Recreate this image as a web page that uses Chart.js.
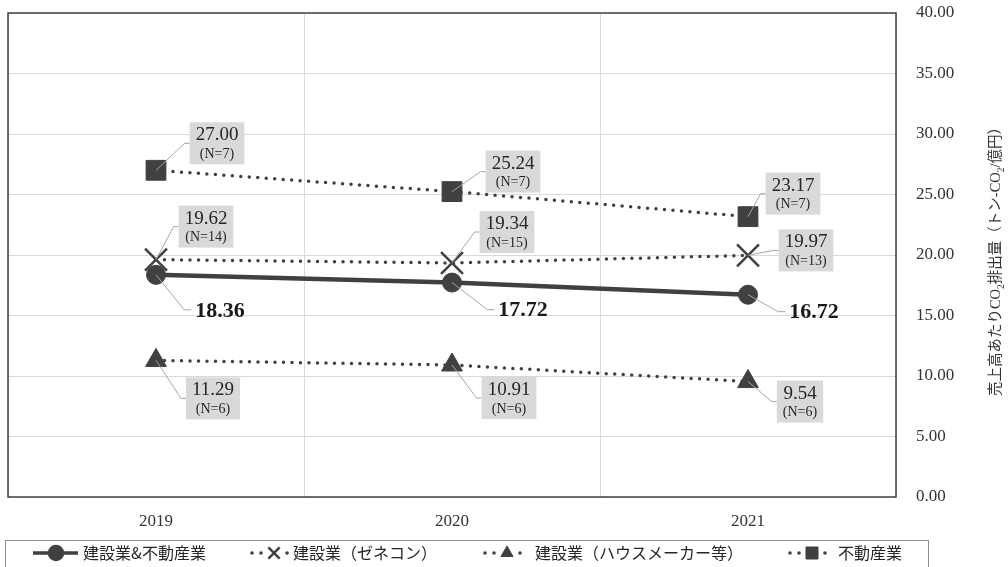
<!DOCTYPE html>
<html>
<head>
<meta charset="utf-8">
<script src="https://cdn.jsdelivr.net/npm/chart.js@4"></script>
<style>
    html, body { margin: 0; padding: 0; background: #fff; }
    #wrap { width: 1008px; height: 567px; }
</style>
</head>
<body>
<div id="wrap"><canvas id="co2Chart"></canvas></div>
<script>

// ------------------------
// Data
// ------------------------

const years = ["2019", "2020", "2021"];

const seriesNames = [
    "建設業&不動産業",
    "建設業（ゼネコン）",
    "建設業（ハウスメーカー等）",
    "不動産業"
];

const totalValues = [18.36, 17.72, 16.72];

const zeneconValues = [19.62, 19.34, 19.97];
const zeneconCounts = [14, 15, 13];

const houseValues = [11.29, 10.91, 9.54];
const houseCounts = [6, 6, 6];

const realEstateValues = [27.00, 25.24, 23.17];
const realEstateCounts = [7, 7, 7];

// [text, isSubscript]
const axisTitleParts = [
    ["売上高あたりCO", false],
    ["2", true],
    ["排出量（トン-CO", false],
    ["2", true],
    ["/億円）", false]
];

// ------------------------
// Layout / style
// ------------------------

const DARK = "#404040";
const SERIF = "'Liberation Serif', 'Noto Sans CJK JP', serif";
const CJK = "'Noto Sans CJK JP', 'Liberation Serif', sans-serif";

// label centre offset from its point, per dataset / per year
const labelOffsets = [
    [[64, 35], [71, 27], [66, 17]],
    [[50, -33], [55, -31], [58, -5]],
    [[57, 38], [57, 33], [52, 20]],
    [[61, -27], [61, -20], [45, -23]]
];

// legend: symbol start x, text start x
const legendLayout = [
    [33, 83],
    [250, 293],
    [483, 535],
    [788, 838]
];

const legendMarkers = [
    { pointStyle: "circle", radius: 6.5, solid: true },
    { pointStyle: "crossRot", radius: 8, borderWidth: 2.5 },
    { pointStyle: "triangle", radius: 7 },
    { pointStyle: "rect", radius: 8.5 }
];

// ------------------------
// Plugins
// ------------------------

const frame = {
    id: "frame",
    beforeDatasetsDraw(chart) {
        const { ctx, chartArea: a } = chart;
        ctx.save();
        ctx.strokeStyle = DARK;
        ctx.lineWidth = 1.5;
        ctx.strokeRect(a.left, a.top, a.right - a.left, a.bottom - a.top);
        ctx.restore();
    }
};

const callouts = {
    id: "callouts",
    afterDatasetsDraw(chart) {
        const ctx = chart.ctx;
        ctx.save();
        chart.data.datasets.forEach((ds, di) => {
            const meta = chart.getDatasetMeta(di);
            meta.data.forEach((pt, i) => {
                const [dx, dy] = labelOffsets[di][i];
                const cx = pt.x + dx;
                const cy = pt.y + dy;
                const value = ds.data[i].toFixed(2);

                ctx.strokeStyle = "#a6a6a6";
                ctx.lineWidth = 1;

                if (!ds.counts) {
                    ctx.font = "bold 22px " + SERIF;
                    const w = ctx.measureText(value).width;
                    const left = cx - w / 2;
                    ctx.beginPath();
                    ctx.moveTo(pt.x, pt.y);
                    ctx.lineTo(left - 11, cy);
                    ctx.lineTo(left - 4, cy);
                    ctx.stroke();
                    ctx.fillStyle = "#1a1a1a";
                    ctx.textAlign = "center";
                    ctx.textBaseline = "middle";
                    ctx.fillText(value, cx, cy + 1);
                    return;
                }

                const nText = "(N=" + ds.counts[i] + ")";
                ctx.font = "19px " + SERIF;
                const w1 = ctx.measureText(value).width;
                ctx.font = "14px " + SERIF;
                const w2 = ctx.measureText(nText).width;
                const bw = Math.max(w1, w2) + 12;
                const bh = 42;
                const left = cx - bw / 2;

                ctx.beginPath();
                ctx.moveTo(pt.x, pt.y);
                ctx.lineTo(left - 5, cy);
                ctx.lineTo(left, cy);
                ctx.stroke();

                ctx.fillStyle = "#d9d9d9";
                ctx.fillRect(left, cy - bh / 2, bw, bh);

                ctx.fillStyle = "#262626";
                ctx.textAlign = "center";
                ctx.textBaseline = "middle";
                ctx.font = "19px " + SERIF;
                ctx.fillText(value, cx, cy - 8);
                ctx.font = "14px " + SERIF;
                ctx.fillText(nText, cx, cy + 11);
            });
        });
        ctx.restore();
    }
};

const sideTitle = {
    id: "sideTitle",
    afterDraw(chart) {
        const { ctx, chartArea: a } = chart;
        const mainFont = "14.5px " + SERIF;
        const subFont = "9.5px " + SERIF;
        ctx.save();
        let total = 0;
        axisTitleParts.forEach(([t, sub]) => {
            ctx.font = sub ? subFont : mainFont;
            total += ctx.measureText(t).width;
        });
        ctx.translate(996, (a.top + a.bottom) / 2 + 3);
        ctx.rotate(-Math.PI / 2);
        ctx.fillStyle = "#333";
        ctx.textBaseline = "middle";
        ctx.textAlign = "left";
        let x = -total / 2;
        axisTitleParts.forEach(([t, sub]) => {
            ctx.font = sub ? subFont : mainFont;
            ctx.fillText(t, x, sub ? 5 : 0);
            x += ctx.measureText(t).width;
        });
        ctx.restore();
    }
};

const boxedLegend = {
    id: "boxedLegend",
    afterDraw(chart) {
        const ctx = chart.ctx;
        const y = 553;
        ctx.save();

        ctx.strokeStyle = "#8c8c8c";
        ctx.lineWidth = 1;
        ctx.strokeRect(5.5, 540.5, 923, 40);

        seriesNames.forEach((name, i) => {
            const [sx, tx] = legendLayout[i];
            const m = legendMarkers[i];
            ctx.fillStyle = DARK;
            ctx.strokeStyle = DARK;

            if (m.solid) {
                ctx.lineWidth = 3.5;
                ctx.beginPath();
                ctx.moveTo(sx, y);
                ctx.lineTo(sx + 45, y);
                ctx.stroke();
                Chart.helpers.drawPoint(ctx, { pointStyle: m.pointStyle, radius: m.radius, rotation: 0, borderWidth: 1 }, sx + 23, y);
            } else {
                [2, 11, 37].forEach(o => {
                    ctx.beginPath();
                    ctx.arc(sx + o, y, 1.8, 0, Math.PI * 2);
                    ctx.fill();
                });
                ctx.lineWidth = m.borderWidth || 1;
                Chart.helpers.drawPoint(ctx, { pointStyle: m.pointStyle, radius: m.radius, rotation: 0, borderWidth: m.borderWidth || 1 }, sx + 24, y);
            }

            ctx.fillStyle = "#262626";
            ctx.font = "16px " + CJK;
            ctx.textAlign = "left";
            ctx.textBaseline = "middle";
            ctx.fillText(name, tx, y);
        });

        ctx.restore();
    }
};

// ------------------------
// Chart
// ------------------------

function dottedSeries(label, data, counts, pointStyle, radius, extra) {
    return Object.assign({
        label: label,
        data: data,
        counts: counts,
        borderColor: DARK,
        backgroundColor: DARK,
        borderWidth: 3.5,
        borderDash: [0, 8.5],
        borderCapStyle: "round",
        pointStyle: pointStyle,
        pointRadius: radius,
        pointBorderWidth: 1,
        pointBackgroundColor: DARK,
        pointBorderColor: DARK,
        tension: 0
    }, extra || {});
}

// drop the label-overhang padding so the plot box sits where we want it
function noPadding(s) {
    s.paddingTop = 0;
    s.paddingBottom = 0;
    s.paddingLeft = 0;
    s.paddingRight = 0;
}

new Chart(document.getElementById("co2Chart"), {

    type: "line",

    data: {

        labels: years,

        datasets: [
            {
                label: seriesNames[0],
                data: totalValues,
                counts: null,
                borderColor: DARK,
                backgroundColor: DARK,
                borderWidth: 4.5,
                pointStyle: "circle",
                pointRadius: 9.5,
                pointBorderWidth: 1,
                pointBackgroundColor: DARK,
                pointBorderColor: DARK,
                tension: 0
            },
            dottedSeries(seriesNames[1], zeneconValues, zeneconCounts, "crossRot", 15.5, { pointBorderWidth: 2.5 }),
            dottedSeries(seriesNames[2], houseValues, houseCounts, "triangle", 12),
            dottedSeries(seriesNames[3], realEstateValues, realEstateCounts, "rect", 14)
        ]

    },

    options: {

        responsive: true,
        maintainAspectRatio: false,
        animation: false,
        devicePixelRatio: 1,

        layout: {
            autoPadding: false,
            padding: { left: 8, top: 13, right: 0, bottom: 27 }
        },

        plugins: {
            legend: { display: false },
            tooltip: { enabled: false }
        },

        scales: {

            x: {
                offset: true,
                border: { display: false },
                grid: { color: "#d9d9d9", offset: true, drawTicks: false },
                ticks: { color: "#333", padding: 14, font: { family: SERIF, size: 17 } },
                afterFit: s => { s.height = 43; noPadding(s); }
            },

            y: {
                position: "right",
                min: 0,
                max: 40,
                border: { display: false },
                grid: { color: "#d9d9d9", drawTicks: false },
                ticks: {
                    stepSize: 5,
                    padding: 20,
                    color: "#333",
                    font: { family: SERIF, size: 17 },
                    callback: v => v.toFixed(2)
                },
                afterFit: s => { s.width = 112; noPadding(s); }
            }

        }

    },

    plugins: [frame, callouts, sideTitle, boxedLegend]

});

</script>
</body>
</html>
